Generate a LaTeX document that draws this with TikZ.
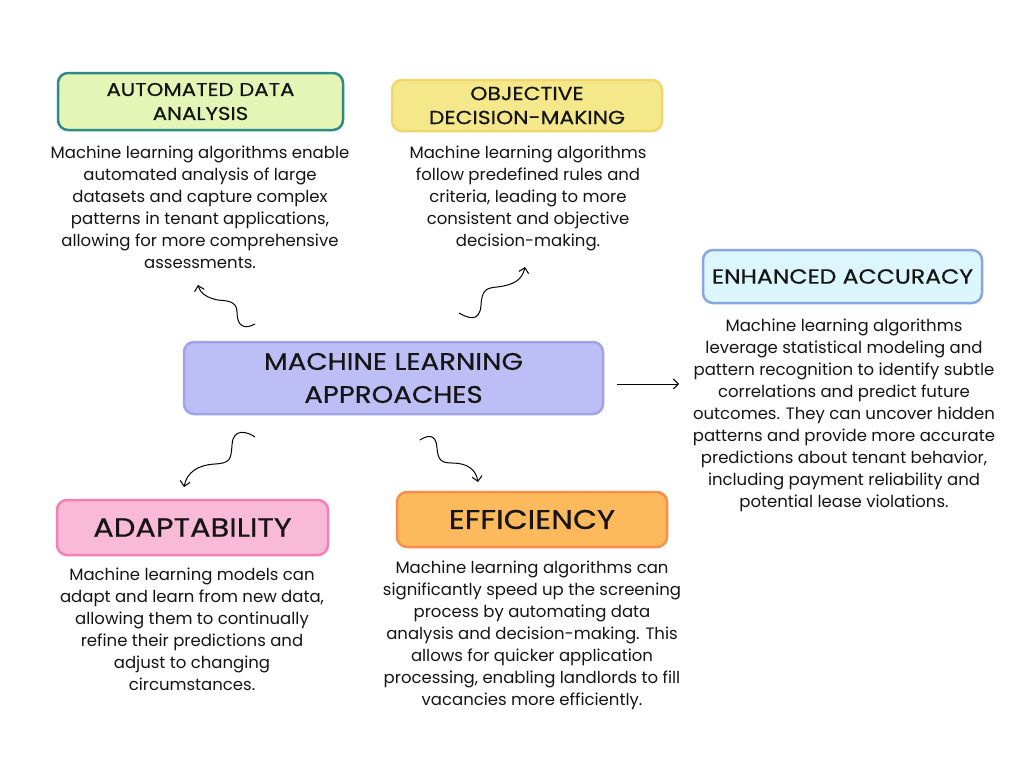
\documentclass[tikz,border=0pt]{standalone}
\usepackage{fontspec}
\setmainfont{Poppins}
\newfontfamily\titlefont[FakeStretch=1.15,FakeBold=0.6]{Poppins}
\usetikzlibrary{arrows.meta}
\definecolor{adaF}{HTML}{E4F5B6}
\definecolor{adaD}{HTML}{2C8C85}
\definecolor{objF}{HTML}{F5E88B}
\definecolor{objD}{HTML}{F4D56C}
\definecolor{enhF}{HTML}{DCF6FD}
\definecolor{enhD}{HTML}{8AA6E0}
\definecolor{mlaF}{HTML}{BDBEF5}
\definecolor{mlaD}{HTML}{A0A3E8}
\definecolor{adpF}{HTML}{F8BAD6}
\definecolor{adpD}{HTML}{F57FB6}
\definecolor{effF}{HTML}{FDBA5C}
\definecolor{effD}{HTML}{FA8E4A}
\definecolor{txt}{HTML}{151515}
\tikzset{
  titlebox/.style={draw, line width=2.5pt, rounded corners=10pt, inner sep=0pt, align=center, text=txt},
  bodytext/.style={anchor=north, inner sep=0pt, align=center, text=txt, font=\fontsize{16.5}{22}\selectfont},
  curvy/.style={line width=1pt, -{Straight Barb[length=5pt,width=10pt]}, black}
}
\begin{document}
\begin{tikzpicture}[x=1pt,y=-1pt]
\useasboundingbox[fill=white] (0,0) rectangle (1024,768);

\node[titlebox, fill=adaF, draw=adaD, minimum width=285pt, minimum height=57pt, font=\titlefont\fontsize{18.5}{24}\selectfont] (ada) at (200.5,101.5) {AUTOMATED DATA\\ANALYSIS};
\node[titlebox, fill=objF, draw=objD, minimum width=270pt, minimum height=51pt, font=\titlefont\fontsize{19}{24}\selectfont] (obj) at (527,105.5) {OBJECTIVE\\DECISION-MAKING};
\node[titlebox, fill=enhF, draw=enhD, minimum width=279pt, minimum height=53pt, font=\titlefont\fontsize{20.5}{24}\selectfont] (enh) at (842.5,276.5) {ENHANCED ACCURACY};
\node[titlebox, fill=mlaF, draw=mlaD, minimum width=419pt, minimum height=72pt, font=\titlefont\fontsize{24}{33}\selectfont] (mla) at (393.5,378) {MACHINE LEARNING\\APPROACHES};
\node[titlebox, fill=adpF, draw=adpD, minimum width=271pt, minimum height=55pt, font=\titlefont\fontsize{26.5}{28}\selectfont] (adp) at (192.5,527.5) {ADAPTABILITY};
\node[titlebox, fill=effF, draw=effD, minimum width=270pt, minimum height=55pt, font=\titlefont\fontsize{27}{28}\selectfont] (eff) at (532,519.5) {EFFICIENCY};

\node[bodytext] (adat) at (200,146) {Machine learning algorithms enable\\automated analysis of large\\datasets and capture complex\\patterns in tenant applications,\\allowing for more comprehensive\\assessments.};
\node[bodytext] (objt) at (528,146) {Machine learning algorithms\\follow predefined rules and\\criteria, leading to more\\consistent and objective\\decision-making.};
\node[bodytext] (enht) at (844,319) {Machine learning algorithms\\leverage statistical modeling and\\pattern recognition to identify subtle\\correlations and predict future\\outcomes. They can uncover hidden\\patterns and provide more accurate\\predictions about tenant behavior,\\including payment reliability and\\potential lease violations.};
\node[bodytext] (adpt) at (192,568) {Machine learning models can\\adapt and learn from new data,\\allowing them to continually\\refine their predictions and\\adjust to changing\\circumstances.};
\node[bodytext] (efft) at (532,561) {Machine learning algorithms can\\significantly speed up the screening\\process by automating data\\analysis and decision-making. This\\allows for quicker application\\processing, enabling landlords to fill\\vacancies more efficiently.};

\coordinate (a1s) at (255,324);
\coordinate (a1e) at (198,285);
\draw[curvy] (a1s) .. controls (244,330) and (237,326) .. (237,312) .. controls (237,300) and (225,301) .. (218,300) .. controls (207,298) and (200,293) .. (a1e);
\coordinate (a2s) at (459,313);
\coordinate (a2e) at (525,267);
\draw[curvy] (a2s) .. controls (466,317) and (480,324) .. (481,305) .. controls (482,290) and (486,288) .. (497,287) .. controls (514,285) and (522,280) .. (a2e);
\coordinate (a3s) at (255,437);
\coordinate (a3e) at (184,487);
\draw[curvy] (a3s) .. controls (248,432) and (233,427) .. (232,445) .. controls (231,460) and (230,463) .. (215,464) .. controls (198,465) and (187,472) .. (a3e);
\coordinate (a4s) at (420,440);
\coordinate (a4e) at (478,482);
\draw[curvy] (a4s) .. controls (426,436) and (436,432) .. (437,448) .. controls (438,460) and (441,463) .. (452,463) .. controls (468,463) and (476,470) .. (a4e);
\coordinate (a5s) at (617,384);
\draw[line width=1pt, -{Straight Barb[length=5pt,width=10pt]}] (a5s) -- (679,384);
\end{tikzpicture}
\end{document}
